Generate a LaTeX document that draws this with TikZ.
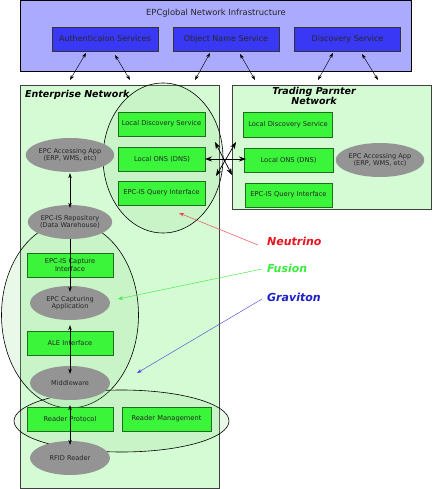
\documentclass[tikz,border=0pt]{standalone}
\usepackage{fontspec}
\setmainfont{DejaVu Sans}
\usetikzlibrary{arrows.meta,shapes.geometric}
\definecolor{infra}{HTML}{AAAAFF}
\definecolor{svc}{HTML}{3838F5}
\definecolor{netfill}{HTML}{D5FBD5}
\definecolor{gbox}{HTML}{3AF53A}
\definecolor{gborder}{HTML}{1E6E1E}
\definecolor{grayel}{HTML}{949494}
\definecolor{elfill}{RGB}{150,220,150}
\definecolor{neu}{HTML}{E8141E}
\definecolor{fus}{HTML}{3CEB3C}
\definecolor{grav}{HTML}{1E1EC8}
\tikzset{
  svcbox/.style={draw=black!80, fill=svc, minimum width=106pt, minimum height=24pt, inner sep=0pt, font=\fontsize{8}{9}\selectfont, text=black!85},
  gbx/.style={draw=gborder, fill=gbox, minimum width=87pt, minimum height=24pt, inner sep=0pt, align=center, font=\fontsize{6.7}{7.2}\selectfont, text=black!85},
  gel/.style={ellipse, fill=grayel, minimum width=80pt, minimum height=34pt, inner sep=0pt, align=center, font=\fontsize{6.6}{6.9}\selectfont, text=black!85},
  netbox/.style={draw=black!75, fill=netfill, line width=0.8pt},
  bigel/.style={ellipse, draw=black, fill=elfill, fill opacity=0.2, line width=0.6pt, inner sep=0pt},
  dar/.style={{Stealth[length=5pt,width=3.5pt]}-{Stealth[length=5pt,width=3.5pt]}, line width=0.45pt},
  sdar/.style={{Stealth[length=7pt,width=5pt]}-{Stealth[length=7pt,width=5pt]}, line width=0.7pt},
  sar/.style={-{Stealth[length=5pt,width=3.5pt]}, line width=0.45pt},
  lbl/.style={font=\fontsize{11}{12}\selectfont\bfseries\itshape, anchor=west, inner sep=0pt}
}
\begin{document}
\begin{tikzpicture}[x=1pt,y=-1pt]
\useasboundingbox (0,0) rectangle (432,489);
% top infrastructure
\node[draw=black, fill=infra, line width=1pt, minimum width=391pt, minimum height=71pt, inner sep=0pt] (infra) at (216,36) {};
\node[font=\fontsize{8.4}{9}\selectfont, text=black!85] (infratitle) at (216,13) {EPCglobal Network Infrastructure};
\node[svcbox] (auth) at (105,39) {Authenticaion Services};
\node[svcbox] (ons) at (226,39) {Object Name Service};
\node[svcbox] (disc) at (347.5,39) {Discovery Service};
% networks
\draw[netbox] (20,85) rectangle (219,488);
\node[font=\fontsize{9.5}{10}\selectfont\bfseries\itshape, anchor=west, inner sep=0pt] (entitle) at (25,95) {Enterprise Network};
\draw[netbox] (232,85) rectangle (431,209);
\node[font=\fontsize{9.5}{9.5}\selectfont\bfseries\itshape, align=center, inner sep=0pt] (tptitle) at (314,96) {Trading Parnter\\Network};
% big ellipses
\node[bigel, minimum width=120pt, minimum height=150pt] (elA) at (163,158) {};
\node[bigel, minimum width=137pt, minimum height=186pt] (elB) at (70,315) {};
\node[bigel, minimum width=215pt, minimum height=62pt] (elC) at (121.5,421) {};
% connection arrow endpoints
\coordinate (a1) at (70,80); \coordinate (a2) at (130,80);
\coordinate (a3) at (195,80); \coordinate (a4) at (255,80);
\coordinate (a5) at (318,80); \coordinate (a6) at (378,80);
\coordinate (s1) at (86,53); \coordinate (s2) at (115,55);
\coordinate (s3) at (210,53); \coordinate (s4) at (240,54);
\coordinate (s5) at (333,53); \coordinate (s6) at (362,54);
\draw[dar] (s1) -- (a1); \draw[dar] (s2) -- (a2);
\draw[dar] (s3) -- (a3); \draw[dar] (s4) -- (a4);
\draw[dar] (s5) -- (a5); \draw[dar] (s6) -- (a6);
% enterprise local services
\node[gbx] (lds) at (161.5,124) {Local Discovery Service};
\node[gbx] (lons) at (162,159) {Local ONS (DNS)};
\node[gbx] (lqi) at (161.5,193) {EPC-IS Query Interface};
% trading partner
\node[gbx, minimum width=89pt, minimum height=25pt] (tds) at (288,125) {Local Discovery Service};
\node[gbx, minimum width=89pt] (tons) at (288.5,160) {Local ONS (DNS)};
\node[gbx, minimum width=87pt] (tqi) at (288.5,195) {EPC-IS Query Interface};
\node[gel] (tapp) at (380,160) {EPC Accessing App\\(ERP, WMS, etc)};
% star arrows
\coordinate (st1) at (205,159); \coordinate (st2) at (246,159);
\coordinate (st3) at (215,142); \coordinate (st4) at (232,175);
\coordinate (st5) at (236,142); \coordinate (st6) at (216,176);
\draw[sdar] (st1) -- (st2);
\draw[sdar] (st3) -- (st4);
\draw[sdar] (st5) -- (st6);
% enterprise stack
\node[gel] (eapp) at (70,155) {EPC Accessing App\\(ERP, WMS, etc)};
\node[gel] (repo) at (70,222) {EPC-IS Repository\\(Data Warehouse)};
\node[gbx, minimum width=86pt] (capi) at (70,265) {EPC-IS Capture\\Interface};
\node[gel] (capp) at (70,303) {EPC Capturing\\Application};
\node[gbx, minimum width=86pt] (ale) at (70,343) {ALE Interface};
\node[gel] (mid) at (70,383) {Middleware};
\node[gbx, minimum width=86pt] (rp) at (70,419) {Reader Protocol};
\node[gbx, minimum width=89pt] (rm) at (166.5,419) {Reader Management};
\node[gel] (rfid) at (70,458) {RFID Reader};
% vertical arrows
\draw[dar] ([yshift=-1pt]eapp.south) -- ([yshift=-3pt]repo.north);
\draw[sar] (repo.south) -- ([yshift=-6pt]capp.north);
\draw[dar] ([yshift=-5pt]capp.south) -- ([yshift=-8pt]mid.north);
\draw[dar] ([yshift=-5pt]mid.south) -- ([yshift=-4pt]rfid.north);
% labels
\node[lbl, text=neu] (neutrino) at (267,241) {Neutrino};
\node[lbl, text=fus] (fusion) at (267,268) {Fusion};
\node[lbl, text=grav] (graviton) at (267,297) {Graviton};
\coordinate (n0) at (179,213);
\coordinate (f0) at (118,299);
\coordinate (g0) at (137,373);
\draw[sar, draw=neu!80, line width=0.45pt] ([xshift=-9pt,yshift=-4pt]neutrino.west) -- (n0);
\draw[sar, draw=fus, line width=0.45pt] ([xshift=-5pt,yshift=-1pt]fusion.west) -- (f0);
\draw[sar, draw=grav!80, line width=0.45pt] ([xshift=-5pt,yshift=-2pt]graviton.west) -- (g0);
\end{tikzpicture}
\end{document}
